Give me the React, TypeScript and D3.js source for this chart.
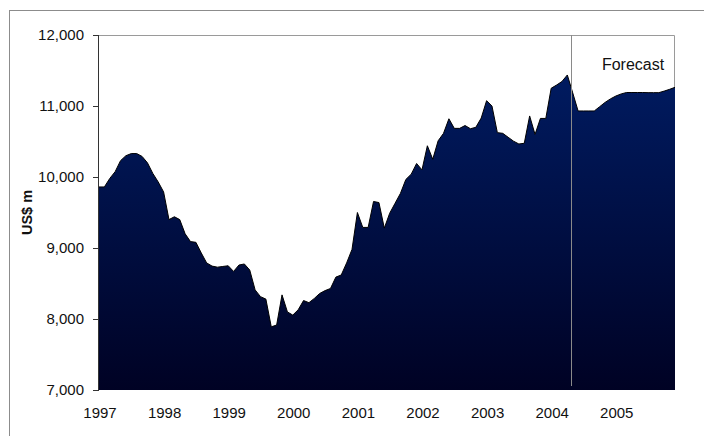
import React from 'react';
import * as d3 from 'd3';

// monthly values, Jan 1997 .. Dec 2005 (US$ m)
const years = ['1997', '1998', '1999', '2000', '2001', '2002', '2003', '2004', '2005'];
const yTicks = [7000, 8000, 9000, 10000, 11000, 12000];

const values1997 = [9860, 9860, 9980, 10075, 10230, 10300, 10330, 10330, 10290, 10200, 10050, 9930];
const values1998 = [9790, 9400, 9440, 9400, 9200, 9090, 9080, 8930, 8790, 8745, 8730, 8740];
const values1999 = [8750, 8670, 8760, 8775, 8690, 8410, 8315, 8280, 7890, 7915, 8340, 8100];
const values2000 = [8055, 8130, 8260, 8230, 8290, 8360, 8400, 8430, 8590, 8620, 8790, 8980];
const values2001 = [9500, 9290, 9290, 9655, 9640, 9280, 9490, 9630, 9770, 9965, 10040, 10190];
const values2002 = [10100, 10440, 10250, 10510, 10615, 10820, 10685, 10685, 10725, 10680, 10700, 10830];
const values2003 = [11075, 11000, 10625, 10615, 10560, 10505, 10465, 10475, 10860, 10600, 10825, 10825];
const values2004 = [11250, 11295, 11345, 11437, 11185, 10930, 10930, 10930, 10930, 10990, 11050, 11100];
const values2005 = [11140, 11170, 11190, 11190, 11190, 11190, 11188, 11188, 11188, 11210, 11235, 11263];

const series = [
  ...values1997, ...values1998, ...values1999, ...values2000, ...values2001,
  ...values2002, ...values2003, ...values2004, ...values2005,
];

const forecastStart = 87.7; // month index where forecast begins
const forecastLabel = 'Forecast';
const yTitle = 'US$ m';

const W = 704;
const H = 436;
const FONT = '"Liberation Sans", Arial, sans-serif';

const App: React.FC = () => {
  const x = d3.scaleLinear().domain([0, series.length - 1]).range([99, 675]);
  const y = d3.scaleLinear().domain([7000, 12000]).range([390, 35]);

  const area = d3.area<number>()
    .x((d, i) => x(i))
    .y0(y(7000))
    .y1(d => y(d));
  const line = d3.line<number>()
    .x((d, i) => x(i))
    .y(d => y(d));

  const fmt = d3.format(',');

  return (
    <div style={{ position: 'absolute', left: 0, top: 0 }}>
      <svg width={W} height={H} style={{ display: 'block', background: '#fff' }}>
        <defs>
          <linearGradient id="fillGrad" gradientUnits="userSpaceOnUse" x1={0} y1={y(12000)} x2={0} y2={y(7000)}>
            <stop offset="0%" stopColor="#001e68" />
            <stop offset="100%" stopColor="#000224" />
          </linearGradient>
        </defs>

        {/* chart frame */}
        <rect x={9.5} y={10.5} width={W} height={H} fill="none" stroke="#8c8c8c" strokeWidth={1} />

        {/* plot border top/right */}
        <path d={`M${x(0)},${y(12000) + 0.5}H${x(series.length - 1) - 0.5}V${y(7000)}`} fill="none" stroke="#9a9a9a" strokeWidth={1} />

        <path d={area(series) || ''} fill="url(#fillGrad)" />
        <path d={line(series) || ''} fill="none" stroke="#000" strokeWidth={1} />

        {/* forecast marker */}
        <line x1={Math.round(x(forecastStart)) + 0.5} x2={Math.round(x(forecastStart)) + 0.5}
          y1={y(12000)} y2={y(7000) - 4} stroke="#8a8a8a" strokeWidth={1} />
        <text x={(x(forecastStart) + x(series.length - 1)) / 2 + 10} y={70} textAnchor="middle"
          fontFamily={FONT} fontSize={16} fill="#111">{forecastLabel}</text>

        {/* y axis */}
        <line x1={x(0) - 0.5} x2={x(0) - 0.5} y1={y(12000)} y2={y(7000)} stroke="#333" strokeWidth={1} />
        {yTicks.map(t => (
          <g key={t}>
            <line x1={x(0) - 6} x2={x(0)} y1={Math.round(y(t)) + 0.5} y2={Math.round(y(t)) + 0.5} stroke="#333" strokeWidth={1} />
            <text x={84} y={y(t)} dy="0.36em" textAnchor="end" fontFamily={FONT} fontSize={15} fill="#111">{fmt(t)}</text>
          </g>
        ))}

        {/* x labels */}
        {years.map((yr, k) => (
          <text key={yr} x={x(k * 12) + 1} y={418} textAnchor="middle" fontFamily={FONT} fontSize={15} fill="#111">{yr}</text>
        ))}

        <text transform={`translate(32,${(y(12000) + y(7000)) / 2}) rotate(-90)`} textAnchor="middle"
          fontFamily={FONT} fontSize={14.5} fontWeight="bold" fill="#111">{yTitle}</text>
      </svg>
    </div>
  );
};

export default App;
